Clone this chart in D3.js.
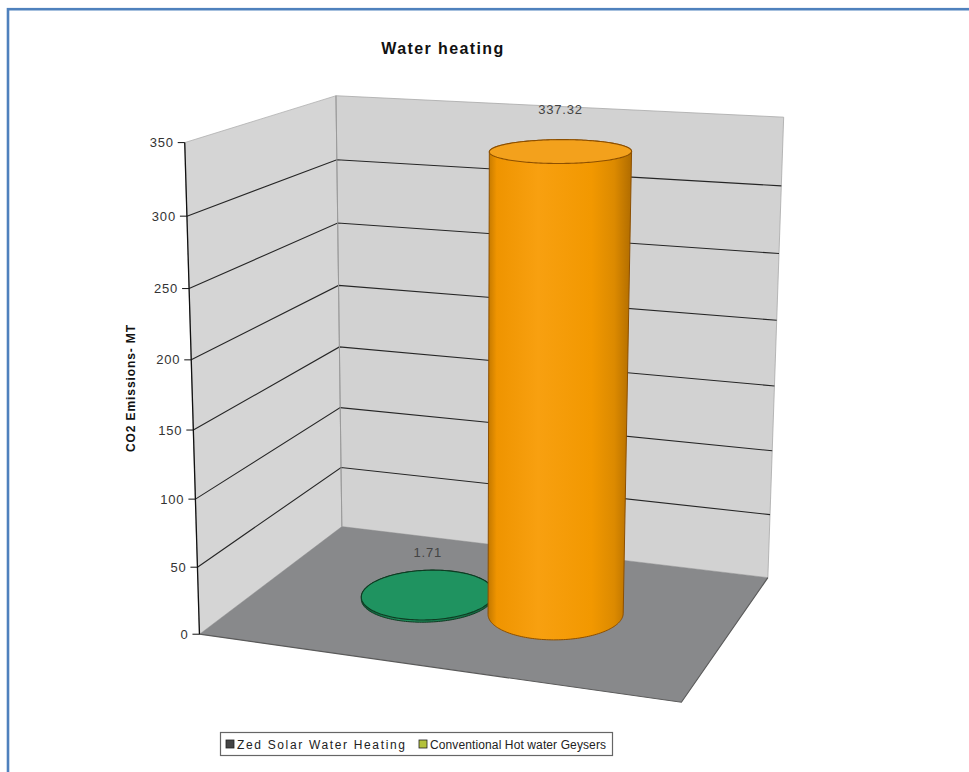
<!DOCTYPE html>
<html>
<head>
<meta charset="utf-8">
<script src="https://cdn.jsdelivr.net/npm/d3@7"></script>
<style>
  body { margin: 0; background: #fff; }
  svg { display: block; font-family: "Liberation Sans", Arial, sans-serif; }
</style>
</head>
<body>
<script>
// ---- chart content ----
const chartTitle = "Water heating";
const axisTitle = "CO2 Emissions- MT";
const seriesNames = ["Zed Solar Water Heating", "Conventional Hot water Geysers"];
const seriesValues = [1.71, 337.32];
const valueLabels = ["1.71", "337.32"];
const yTicks = [0, 50, 100, 150, 200, 250, 300, 350];
const yMax = 350;

// ---- styling ----
const barTop = ["#1f9360", "#f3a11c"];
const barEdge = ["#0e3b22", "#8c4f00"];
const legendSwatch = ["#454545", "#b4c23c"];

const W = 969, H = 772;
const svg = d3.select("body").append("svg").attr("width", W).attr("height", H);

// World space of the plot box: x 0..1 (left to right), value 0..yMax (up), z 0..1 (front to back)
const yS = d3.scaleLinear().domain([0, yMax]).range([0, 1]);
const xS = d3.scalePoint().domain(seriesNames).range([0.025, 0.965]).padding(1.16);

// Screen positions of the plot box frame, used to solve a perspective camera (DLT)
const frameRefs = [
  [0, 0, 0, 200, 633], [0, 350, 0, 185, 143], [0, 300, 0, 186, 216], [0, 250, 0, 188, 288],
  [0, 200, 0, 190, 360], [0, 150, 0, 193, 431], [0, 100, 0, 197, 500], [0, 50, 0, 198, 567],
  [0, 0, 1, 340, 527], [0, 350, 1, 337, 96], [0, 300, 1, 337, 160], [0, 250, 1, 339, 222],
  [1, 0, 1, 768, 578], [1, 350, 1, 783, 117], [1, 0, 0, 682, 702]
];

function solveCamera(refs) {
  const cx = 480, cy = 400, s = 300, n = 11;
  const A = Array.from({ length: n }, () => new Array(n + 1).fill(0));
  const addRow = (r, b) => {
    for (let i = 0; i < n; i++) {
      for (let j = 0; j < n; j++) A[i][j] += r[i] * r[j];
      A[i][n] += r[i] * b;
    }
  };
  refs.forEach(([X, v, Z, u, w]) => {
    const Y = yS(v), un = (u - cx) / s, wn = (w - cy) / s;
    addRow([X, Y, Z, 1, 0, 0, 0, 0, -un * X, -un * Y, -un * Z], un);
    addRow([0, 0, 0, 0, X, Y, Z, 1, -wn * X, -wn * Y, -wn * Z], wn);
  });
  for (let c = 0; c < n; c++) {
    let p = c;
    for (let r = c + 1; r < n; r++) if (Math.abs(A[r][c]) > Math.abs(A[p][c])) p = r;
    [A[c], A[p]] = [A[p], A[c]];
    for (let r = 0; r < n; r++) {
      if (r === c) continue;
      const f = A[r][c] / A[c][c];
      for (let k = c; k <= n; k++) A[r][k] -= f * A[c][k];
    }
  }
  const P = A.map((row, i) => row[n] / row[i]);
  return (X, v, Z) => {
    const Y = yS(v);
    const d = P[8] * X + P[9] * Y + P[10] * Z + 1;
    return [cx + s * (P[0] * X + P[1] * Y + P[2] * Z + P[3]) / d,
            cy + s * (P[4] * X + P[5] * Y + P[6] * Z + P[7]) / d];
  };
}
const proj = solveCamera(frameRefs);
const poly = pts => "M" + pts.map(p => p.join(",")).join("L") + "Z";
const line = pts => "M" + pts.map(p => p.join(",")).join("L");

// ---- outer frame ----
svg.append("rect").attr("x", 8).attr("y", 9.2).attr("width", 1000).attr("height", 1000)
  .attr("fill", "none").attr("stroke", "#4f81bd").attr("stroke-width", 2.6);

// ---- title ----
svg.append("text").attr("x", 443).attr("y", 54).attr("text-anchor", "middle")
  .attr("font-size", 16).attr("font-weight", "bold").attr("letter-spacing", 1.4)
  .attr("fill", "#111").text(chartTitle);

// ---- walls and floor ----
const g = svg.append("g");
g.append("path").attr("d", poly([proj(0, 0, 0), proj(0, yMax, 0), proj(0, yMax, 1), proj(0, 0, 1)]))
  .attr("fill", "#d5d5d5").attr("stroke", "#b0b0b0").attr("stroke-width", 0.8);
g.append("path").attr("d", poly([proj(0, 0, 1), proj(0, yMax, 1), proj(1, yMax, 1), proj(1, 0, 1)]))
  .attr("fill", "#d2d2d2").attr("stroke", "#a8a8a8").attr("stroke-width", 0.8);
g.append("path").attr("d", poly([proj(0, 0, 0), proj(0, 0, 1), proj(1, 0, 1), proj(1, 0, 0)]))
  .attr("fill", "#88898b");
g.append("path").attr("d", line([proj(0, 0, 0), proj(1, 0, 0), proj(1, 0, 1)]))
  .attr("fill", "none").attr("stroke", "#5a5a5a").attr("stroke-width", 1.2);

// gridlines across the left and back walls
g.selectAll(".grid").data(yTicks.filter(t => t > 0 && t < yMax)).join("path")
  .attr("class", "grid")
  .attr("d", t => line([proj(0, t, 0), proj(0, t, 1), proj(1, t, 1)]))
  .attr("fill", "none").attr("stroke", "#262626").attr("stroke-width", 1.1);
g.append("path").attr("d", line([proj(0, 0, 1), proj(0, yMax, 1)]))
  .attr("stroke", "#9a9a9a").attr("stroke-width", 1);

// ---- value axis ----
g.append("path").attr("d", line([proj(0, 0, 0), proj(0, yMax, 0)]))
  .attr("stroke", "#111").attr("stroke-width", 1.3);
const ticks = g.selectAll(".tick").data(yTicks).join("g").attr("class", "tick");
ticks.append("path").attr("d", t => { const p = proj(0, t, 0); return line([[p[0] - 7, p[1]], p]); })
  .attr("stroke", "#111").attr("stroke-width", 1);
ticks.append("text")
  .attr("x", t => proj(0, t, 0)[0] - 11).attr("y", t => proj(0, t, 0)[1] + 4.5)
  .attr("text-anchor", "end").attr("font-size", 13).attr("letter-spacing", 0.8)
  .attr("fill", "#333").text(t => t);

svg.append("text").attr("transform", "translate(135,388) rotate(-90)")
  .attr("text-anchor", "middle").attr("font-size", 12).attr("font-weight", "bold")
  .attr("letter-spacing", 0.9).attr("fill", "#111").text(axisTitle);

// ---- cylinders ----
const rx = 0.138, rz = 0.21, zc = 0.5;
const angles = d3.range(0, 2 * Math.PI, Math.PI / 90);
const defs = svg.append("defs");
const sideStops = [
  [["0", "#0e5a36"], ["0.3", "#1f9360"], ["1", "#12633d"]],
  [["0", "#c27800"], ["0.06", "#ef9400"], ["0.35", "#f8a010"], ["0.72", "#f29800"], ["0.88", "#dc8a00"], ["1", "#b06c00"]]
];

const bars = seriesNames.map((name, i) => {
  const xc = xS(name), h = seriesValues[i];
  const ring = v => angles.map(a => proj(xc + rx * Math.cos(a), v, zc + rz * Math.sin(a)));
  return { i, name, h, xc, bottom: ring(0), top: ring(h), centerTop: proj(xc, h, zc) };
});

bars.forEach(b => {
  const hull = d3.polygonHull(b.bottom.concat(b.top));
  const xs = hull.map(p => p[0]);
  const gid = "side" + b.i;
  const grad = defs.append("linearGradient").attr("id", gid).attr("gradientUnits", "userSpaceOnUse")
    .attr("x1", d3.min(xs)).attr("x2", d3.max(xs)).attr("y1", 0).attr("y2", 0);
  sideStops[b.i].forEach(([o, c]) => grad.append("stop").attr("offset", o).attr("stop-color", c));
  g.append("path").attr("d", poly(hull)).attr("fill", `url(#${gid})`)
    .attr("stroke", barEdge[b.i]).attr("stroke-width", 1);
  g.append("path").attr("d", poly(b.top)).attr("fill", barTop[b.i])
    .attr("stroke", barEdge[b.i]).attr("stroke-width", 1.1);
});

// value labels above each cylinder
g.selectAll(".vlabel").data(bars).join("text").attr("class", "vlabel")
  .attr("x", b => b.centerTop[0]).attr("y", b => b.centerTop[1] - 37)
  .attr("text-anchor", "middle").attr("font-size", 13).attr("letter-spacing", 0.8)
  .attr("fill", "#444").text(b => valueLabels[b.i]);

// ---- legend ----
const lg = svg.append("g");
lg.append("rect").attr("x", 220.5).attr("y", 732.5).attr("width", 392).attr("height", 23)
  .attr("fill", "#fff").attr("stroke", "#666").attr("stroke-width", 1.2);
const legendX = [226, 419];
const legendTextWidth = [168, 176];
seriesNames.forEach((name, i) => {
  lg.append("rect").attr("x", legendX[i]).attr("y", 740).attr("width", 8).attr("height", 8)
    .attr("fill", legendSwatch[i]).attr("stroke", "#222").attr("stroke-width", 0.8);
  lg.append("text").attr("x", legendX[i] + 11).attr("y", 748.5)
    .attr("font-size", 12).attr("textLength", legendTextWidth[i]).attr("lengthAdjust", "spacing")
    .attr("fill", "#222").text(name);
});
</script>
</body>
</html>
